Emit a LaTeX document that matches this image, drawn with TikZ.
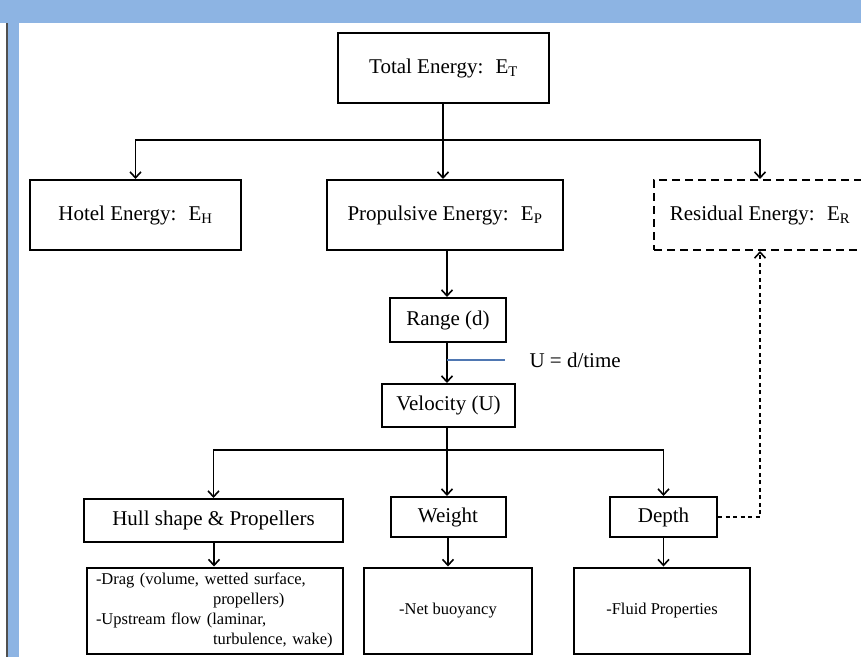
\documentclass[tikz,border=0pt]{standalone}
\usepackage{fontspec}
\setmainfont{Liberation Serif}
\usetikzlibrary{positioning,arrows.meta,calc}
\definecolor{frameblue}{RGB}{141,180,227}
\definecolor{lineblue}{RGB}{79,119,178}
\definecolor{edgegray}{RGB}{80,80,80}

\begin{document}
\begin{tikzpicture}[x=1pt, y=-1pt,
  box/.style={draw, rectangle, line width=2pt, align=center, font=\fontsize{21}{25}\selectfont, inner sep=2pt},
  dbox/.style={box, dash pattern=on 8pt off 5pt},
  note/.style={draw, rectangle, line width=2pt, font=\fontsize{16.5}{20}\selectfont, inner sep=2pt},
  arr/.style={-{Straight Barb[length=6pt,width=11pt,line width=1.6pt]}, line width=1.6pt},
  darr/.style={arr, line width=1.5pt, dash pattern=on 4pt off 3.5pt},
]
  % frame of the slide
  \clip (0,0) rectangle (861,657);
  \fill[white] (0,0) rectangle (861,657);
  \fill[frameblue] (0,0) rectangle (861,23);
  \fill[frameblue] (8,23) rectangle (19,657);
  \draw[edgegray, line width=1.5pt] (7,23) -- (7,657);

  \node[box, minimum width=211pt, minimum height=70pt] (total) at (443.5,68) {Total Energy:~ E\textsubscript{T}};
  \node[box, minimum width=211pt, minimum height=70pt] (hotel) at (135.5,215) {Hotel Energy:~ E\textsubscript{H}};
  \node[box, minimum width=236pt, minimum height=70pt] (prop) at (445,215) {Propulsive Energy:~ E\textsubscript{P}};
  \node[dbox, minimum width=212pt, minimum height=70pt] (resid) at (760,215) {Residual Energy:~ E\textsubscript{R}};
  \node[box, minimum width=116pt, minimum height=44pt] (range) at (448,320) {Range (d)};
  \node[box, minimum width=133pt, minimum height=43pt] (vel) at (448.5,405.5) {Velocity (U)};
  \node[font=\fontsize{21}{25}\selectfont, anchor=west] (ulbl) at (526,360) {U = d/time};
  \node[box, minimum width=259pt, minimum height=43pt] (hull) at (213.5,520.5) {Hull shape \& Propellers};
  \node[box, minimum width=115pt, minimum height=40pt] (weight) at (448,517) {Weight};
  \node[box, minimum width=107pt, minimum height=40pt] (depth) at (663.5,517) {Depth};
  \node[note, minimum width=256pt, minimum height=86pt, text width=238pt, align=left] (drag) at (215,610.5)
    {-Drag (volume, wetted surface,\\\hspace*{117pt}propellers)\\-Upstream flow (laminar,\\\hspace*{117pt}turbulence, wake)};
  \node[note, minimum width=168pt, minimum height=86pt] (buoy) at (448,610.5) {-Net buoyancy};
  \node[note, minimum width=176pt, minimum height=86pt] (fluid) at (662,610.5) {-Fluid Properties};

  \coordinate (split1) at (443,140);
  \coordinate (split2) at (447,450);
  \coordinate (utick) at (447,360);

  \draw[line width=1.6pt] (total.south -| split1) -- (split1);
  \draw[arr] (split1) -| (hotel);
  \draw[arr] (split1) -| (resid);
  \draw[arr] (split1) -- (split1 |- prop.north);
  \draw[arr] (prop.south -| range.south) ++(-1,0) coordinate (p1) -- (p1 |- range.north);
  \draw[arr] (range.south -| utick) -- (utick |- vel.north);
  \draw[lineblue, line width=1.2pt] (utick) -- ++(58,0);
  \draw[line width=1.6pt] (vel.south -| split2) -- (split2);
  \draw[arr] (split2) -| (hull);
  \draw[arr] (split2) -| (depth);
  \draw[arr] (split2) -- (split2 |- weight.north);
  \draw[arr] (hull.south -| drag.north) ++(-1,0) coordinate (p2) -- (p2 |- drag.north);
  \draw[arr] (weight) -- (buoy);
  \draw[arr] (depth.south) -- (depth.south |- fluid.north);
  \draw[darr] (depth.east) -| (resid.south);
\end{tikzpicture}
\end{document}
